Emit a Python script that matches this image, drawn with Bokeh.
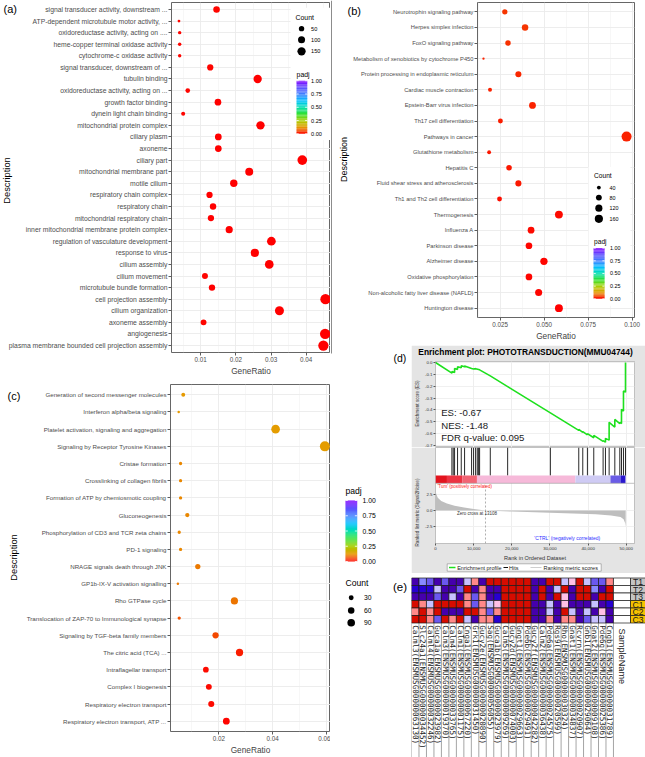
import math
from bokeh.plotting import figure
from bokeh.models import (Range1d, FixedTicker, NumeralTickFormatter, GridBox, Grid,
                          LinearColorMapper, ColumnDataSource, Span)
from bokeh.layouts import column
from bokeh.core.properties import value
from bokeh.embed import file_html
from bokeh.resources import INLINE

# ============================ DATA ============================
# (a) GO enrichment
a_terms = [
    "signal transducer activity, downstream ...",
    "ATP-dependent microtubule motor activity, ...",
    "oxidoreductase activity, acting on ....",
    "heme-copper terminal oxidase activity",
    "cytochrome-c oxidase activity",
    "signal transducer, downstream of ...",
    "tubulin binding",
    "oxidoreductase activity, acting on ...",
    "growth factor binding",
    "dynein light chain binding",
    "mitochondrial protein complex",
    "ciliary plasm",
    "axoneme",
    "ciliary part",
    "mitochondrial membrane part",
    "motile cilium",
    "respiratory chain complex",
    "respiratory chain",
    "mitochondrial respiratory chain",
    "inner mitochondrial membrane protein complex",
    "regulation of vasculature development",
    "response to virus",
    "cilium assembly",
    "cilium movement",
    "microtubule bundle formation",
    "cell projection assembly",
    "cilium organization",
    "axoneme assembly",
    "angiogenesis",
    "plasma membrane bounded cell projection assembly",
]
a_ratio = [0.0145, 0.0038, 0.0040, 0.0040, 0.0040, 0.0127, 0.0262, 0.0063, 0.0149, 0.0050,
           0.0270, 0.0150, 0.0150, 0.0389, 0.0238, 0.0194, 0.0125, 0.0135, 0.0129, 0.0181,
           0.0301, 0.0254, 0.0295, 0.0112, 0.0132, 0.0455, 0.0324, 0.0108, 0.0454, 0.0449]
a_count = [51, 13, 14, 14, 14, 44, 92, 22, 52, 17, 94, 53, 53, 136, 83, 68, 44, 47, 45, 63,
           105, 89, 103, 39, 46, 159, 113, 38, 159, 157]
a_padj = [0.004, 0.006, 0.005, 0.005, 0.005, 0.004, 0.002, 0.005, 0.003, 0.006, 0.002, 0.003,
          0.003, 0.001, 0.002, 0.002, 0.003, 0.003, 0.003, 0.002, 0.001, 0.002, 0.001, 0.004,
          0.003, 0.001, 0.001, 0.004, 0.001, 0.001]
a_ratio_ticks = [0.01, 0.02, 0.03, 0.04]
a_ratio_minor = [0.005, 0.015, 0.025, 0.035, 0.045]
a_count_breaks = [50, 100, 150]

# (b) KEGG enrichment
b_terms = [
    "Neurotrophin signaling pathway",
    "Herpes simplex infection",
    "FoxO signaling pathway",
    "Metabolism of xenobiotics by cytochrome P450",
    "Protein processing in endoplasmic reticulum",
    "Cardiac muscle contraction",
    "Epstein-Barr virus infection",
    "Th17 cell differentiation",
    "Pathways in cancer",
    "Glutathione metabolism",
    "Hepatitis C",
    "Fluid shear stress and atherosclerosis",
    "Th1 and Th2 cell differentiation",
    "Thermogenesis",
    "Influenza A",
    "Parkinson disease",
    "Alzheimer disease",
    "Oxidative phosphorylation",
    "Non-alcoholic fatty liver disease (NAFLD)",
    "Huntington disease",
]
b_ratio = [0.0277, 0.0392, 0.0295, 0.0156, 0.0354, 0.0193, 0.0434, 0.0252, 0.0968, 0.0188,
           0.0301, 0.0354, 0.0247, 0.0584, 0.0426, 0.0414, 0.0499, 0.0414, 0.0469, 0.0584]
b_count = [50, 71, 53, 28, 64, 35, 78, 45, 174, 34, 54, 64, 44, 105, 77, 75, 90, 75, 84, 105]
b_padj = [0.045, 0.045, 0.040, 0.030, 0.035, 0.030, 0.030, 0.025, 0.030, 0.020,
          0.020, 0.020, 0.015, 0.010, 0.010, 0.006, 0.006, 0.004, 0.004, 0.003]
b_ratio_ticks = [0.025, 0.050, 0.075, 0.100]
b_ratio_minor = [0.0125, 0.0375, 0.0625, 0.0875]
b_count_breaks = [40, 80, 120, 160]

# (c) Reactome enrichment
c_terms = [
    "Generation of second messenger molecules",
    "Interferon alpha/beta signaling",
    "Platelet activation, signaling and aggregation",
    "Signaling by Receptor Tyrosine Kinases",
    "Cristae formation",
    "Crosslinking of collagen fibrils",
    "Formation of ATP by chemiosmotic coupling",
    "Gluconeogenesis",
    "Phosphorylation of CD3 and TCR zeta chains",
    "PD-1 signaling",
    "NRAGE signals death through JNK",
    "GP1b-IX-V activation signalling",
    "Rho GTPase cycle",
    "Translocation of ZAP-70 to Immunological synapse",
    "Signaling by TGF-beta family members",
    "The citric acid (TCA) ...",
    "Intraflagellar transport",
    "Complex I biogenesis",
    "Respiratory electron transport",
    "Respiratory electron transport, ATP ...",
]
c_ratio = [0.0068, 0.0051, 0.0411, 0.0594, 0.0058, 0.0058, 0.0058, 0.0083, 0.0053, 0.0058,
           0.0122, 0.0048, 0.0258, 0.0053, 0.0188, 0.0277, 0.0152, 0.0163, 0.0172, 0.0228]
c_count = [11, 8, 66, 95, 9, 9, 9, 13, 9, 9, 20, 8, 42, 9, 30, 44, 24, 26, 28, 37]
c_padj = [0.125, 0.125, 0.130, 0.130, 0.110, 0.110, 0.110, 0.110, 0.110, 0.110,
          0.100, 0.100, 0.095, 0.070, 0.060, 0.025, 0.010, 0.010, 0.010, 0.005]
c_ratio_ticks = [0.02, 0.04, 0.06]
c_ratio_minor = [0.01, 0.03, 0.05]
c_count_breaks = [30, 60, 90]

padj_breaks = [0.00, 0.25, 0.50, 0.75, 1.00]

# (d) GSEA enrichment plot
gsea_title = "Enrichment plot: PHOTOTRANSDUCTION(MMU04744)"
es_rank = [0, 4300, 4300, 5000, 5000, 5780, 5780, 6750, 6750, 7620, 7620, 9460, 9980, 10510,
           11560, 14360, 18910, 30110, 37550, 37550, 38600, 38600, 39820, 39820, 41480, 41480,
           43930, 43930, 44550, 44550, 45510, 45510, 47000, 47000, 48310, 48310, 48750, 48750,
           49270, 49270, 49800, 49800]
es_val = [0.0, -0.090, -0.075, -0.085, -0.050, -0.058, -0.035, -0.045, -0.028, -0.036, -0.030,
          -0.050, -0.055, -0.052, -0.062, -0.113, -0.203, -0.425, -0.572, -0.565, -0.590, -0.583,
          -0.610, -0.600, -0.635, -0.615, -0.665, -0.660, -0.672, -0.640, -0.655, -0.505, -0.545,
          -0.480, -0.515, -0.505, -0.515, -0.395, -0.410, -0.240, -0.250, 0.0]
es_ticks = [0.0, -0.1, -0.2, -0.3, -0.4, -0.5, -0.6, -0.7]
es_stats = ["ES: -0.67", "NES: -1.48", "FDR q-value: 0.095"]
hits_rank = [4300, 4650, 5000, 5780, 6750, 7620, 9460, 9980, 10510, 10950, 11300, 11560, 14360,
             18910, 30110, 37550, 38600, 39820, 41480, 43930, 44550, 45510, 47000, 48310, 48750,
             49270, 49800]
cbar_start = [0, 3000, 7000, 10860, 36670, 45860, 48480]
cbar_end = [3000, 7000, 10860, 36670, 45860, 48480, 49800]
cbar_color = ["#E3141E", "#EC3343", "#F26474", "#F6B9D9", "#CFCBF4", "#6A5CE6", "#2A18CF"]
metric_rank = [0, 200, 600, 1500, 3000, 5000, 7500, 10000, 13108, 20000, 28000, 36000, 42000,
               46000, 48500, 49300, 49700, 49850]
metric_val = [3.3, 2.6, 2.0, 1.5, 1.1, 0.75, 0.45, 0.22, 0.0, -0.18, -0.33, -0.48, -0.62,
              -0.80, -1.05, -1.40, -2.00, -2.60]
metric_ticks = [-2.5, 0.0, 2.5]
rank_ticks = [0, 10000, 20000, 30000, 40000, 50000]
zero_cross = 13108
d_legend_labels = ["Enrichment profile", "Hits", "Ranking metric scores"]

# (e) heat map of the leading genes
genes = [
    "Calml3(ENSMUSG00000063130)", "Slc24a1(ENSMUSG00000034452)", "Calml4(ENSMUSG00000032246)",
    "Guca1a(ENSMUSG00000023982)", "Calm3(ENSMUSG00000019370)", "Calm4(ENSMUSG00000033765)",
    "Calm1(ENSMUSG00000001175)", "Cnga1(ENSMUSG00000067220)", "Grk1(ENSMUSG00000031450)",
    "Gucy2e(ENSMUSG00000020890)", "Sag(ENSMUSG00000056055)", "Guca1b(ENSMUSG00000023979)",
    "Calm5(ENSMUSG00000009269)", "Gucy2d(ENSMUSG00000074003)", "Gngt1(ENSMUSG00000029663)",
    "Pde6b(ENSMUSG00000029491)", "Gucy2f(ENSMUSG00000042282)", "Calm2(ENSMUSG00000036438)",
    "Pde6a(ENSMUSG00000024575)", "Rgs9(ENSMUSG00000020599)", "Rho(ENSMUSG00000030324)",
    "Gnat1(ENSMUSG00000034837)", "Rcvrn(ENSMUSG00000020907)", "Gnb1(ENSMUSG00000029064)",
    "Gnat2(ENSMUSG00000009108)", "Pde6g(ENSMUSG00000025386)", "Cngb1(ENSMUSG00000031789)",
]
samples = ["T1", "T2", "T3", "C1", "C2", "C3"]
heat_T1 = [-1.8, -0.8, -1.1, -1.8, -1.1, -1.8, -1.8, -0.5, 0.6, -1.8, 1.9, 1.9, 1.9, 1.9,
           1.9, 1.9, -1.8, -1.8, 1.9, 1.9, -0.5, 0.2, 1.9, -0.5, -1.1, -1.1, 0.6]
heat_T2 = [-1.5, -1.5, -1.5, -0.5, -1.8, -1.8, -1.1, 1.9, -1.8, 0.6, -1.8, -1.8, 1.9, 1.9,
           1.9, 1.9, -1.8, 1.9, -1.8, -0.5, 1.9, -1.8, 1.9, 1.9, -0.8, -1.8, 1.9]
heat_T3 = [-1.8, -1.8, -1.8, -1.1, -1.8, -0.5, -1.8, 0.6, -1.1, 0.6, -1.8, -1.5, 1.9, 1.9,
           1.9, 1.9, -1.8, 1.9, -1.8, 1.9, 0.2, -1.8, 1.9, 1.9, -1.8, 1.9, 1.9]
heat_C1 = [1.9, 0.6, -0.5, 1.9, 1.9, 1.9, 1.9, 0.6, -1.1, 0.6, -0.5, 0.2, 1.9, 1.9,
           1.9, 1.9, -1.8, -1.8, -0.5, -1.8, 0.2, -1.8, -1.8, -1.8, -0.5, -1.8, -1.5]
heat_C2 = [0.6, 1.9, 0.6, 1.9, -1.8, -1.8, -1.8, 1.9, 1.9, 0.6, -1.1, 0.6, 1.9, 1.9,
           1.9, 1.9, -1.8, -1.8, -0.5, -1.8, 1.9, -0.5, -1.8, -0.5, -1.8, 0.2, -1.8]
heat_C3 = [1.9, 1.9, 0.6, -1.1, 1.9, 0.6, 1.9, -0.5, -1.8, 0.6, 0.6, -1.5, 1.9, 1.9,
           1.9, 1.9, -1.8, -1.8, 0.6, -1.8, 0.6, 0.6, -1.8, -1.1, -0.5, -0.5, -1.8]
heat_rows = [heat_T1, heat_T2, heat_T3, heat_C1, heat_C2, heat_C3]

# ============================ STYLE ============================
S = 1.0
FONT = "Liberation Sans"
MONO = "DejaVu Sans Mono"
GSEA_BG = "#E4E4E4"
GREEN = "#1EE01E"
HEAT_PALETTE = ["#4500AD", "#2700D1", "#6B58EF", "#8888FF", "#C7C1FF", "#D5D5FF",
                "#FFC0E5", "#FF8989", "#FF7080", "#FF5A5A", "#EF4040", "#D60C00"]
PADJ_STOPS = [(0.0, "#FF0000"), (0.125, "#E69A00"), (0.25, "#A8D000"), (0.375, "#30E030"),
              (0.5, "#00E0B0"), (0.625, "#00C0FF"), (0.75, "#4080FF"), (0.875, "#6050FF"),
              (1.0, "#8000FF")]


def sc(v):
    return int(round(v * S))


def fs(v):
    return f"{v * S:.2f}px"


def _rgb(c):
    return tuple(int(c[i:i + 2], 16) for i in (1, 3, 5))


def cmap(t):
    for (t0, c0), (t1, c1) in zip(PADJ_STOPS[:-1], PADJ_STOPS[1:]):
        if t <= t1:
            f = (t - t0) / (t1 - t0)
            a, b = _rgb(c0), _rgb(c1)
            return "#%02x%02x%02x" % tuple(int(round(a[k] + (b[k] - a[k]) * f)) for k in range(3))
    return PADJ_STOPS[-1][1]


PADJ_MAPPER = LinearColorMapper(palette=[cmap(i / 255) for i in range(256)], low=0, high=1)
HEAT_MAPPER = LinearColorMapper(palette=HEAT_PALETTE, low=-2, high=2)


def dsize(c, cmin, cmax, dmin, dmax):
    return (dmin + (dmax - dmin) * math.sqrt(max(0.0, c - cmin) / (cmax - cmin))) * S


def make_fig(box, frame=None, xr=(0, 1), yr=(0, 1), xloc=None, yloc=None):
    sx0, sy0, sx1, sy1 = [sc(v) for v in box]
    fx0, fy0, fx1, fy1 = [sc(v) for v in (frame or box)]
    p = figure(width=sx1 - sx0, height=sy1 - sy0, output_backend="svg", toolbar_location=None,
               title=None, x_range=Range1d(*xr), y_range=Range1d(*yr),
               x_axis_location=xloc, y_axis_location=yloc, min_border=0,
               min_border_left=max(0, fx0 - sx0), min_border_right=max(0, sx1 - fx1),
               min_border_top=max(0, fy0 - sy0), min_border_bottom=max(0, sy1 - fy1))
    p.frame_align = False
    p.border_fill_color = "white"
    p.background_fill_color = "white"
    p.outline_line_color = None
    if xloc is None:
        p.xgrid.visible = False
    if yloc is None:
        p.ygrid.visible = False
    return p


def txt(p, xs, ys, texts, size, color="#000000", align="left", baseline="middle",
        font=FONT, angle=0.0, style="normal"):
    p.text(x=xs, y=ys, text=texts, text_font=value(font), text_font_size=value(fs(size)),
           text_color=color, text_align=align, text_baseline=baseline, angle=angle,
           text_font_style=style)


def style_axis(ax, lsize, color="#4D4D4D", tick=3, standoff=1):
    ax.axis_line_color = None
    ax.major_tick_line_color = "#333333"
    ax.major_tick_line_width = 0.8
    ax.major_tick_out = tick
    ax.major_tick_in = 0
    ax.minor_tick_out = 0
    ax.minor_tick_in = 0
    ax.major_label_text_font = FONT
    ax.major_label_text_font_size = fs(lsize)
    ax.major_label_text_color = color
    ax.major_label_standoff = standoff


def dotplot(box, frame, xr, terms, ratio, count, padj, ticks, minor, fmt, ylab_size, dmin, dmax):
    n = len(terms)
    p = make_fig(box, frame, xr, (n + 0.6, 0.4), xloc="below", yloc="left")
    p.outline_line_color = "#555555"
    p.outline_line_width = 0.9
    xa, ya = p.xaxis[0], p.yaxis[0]
    xa.ticker = FixedTicker(ticks=ticks, minor_ticks=minor)
    xa.formatter = NumeralTickFormatter(format=fmt)
    ya.ticker = FixedTicker(ticks=list(range(1, n + 1)))
    ya.major_label_overrides = {i + 1: t for i, t in enumerate(terms)}
    style_axis(xa, 6.3)
    style_axis(ya, ylab_size)
    xa.axis_label = "GeneRatio"
    xa.axis_label_text_font = FONT
    xa.axis_label_text_font_size = fs(8.3)
    xa.axis_label_text_font_style = "normal"
    xa.axis_label_standoff = 1
    p.xgrid.grid_line_color = "#EBEBEB"
    p.xgrid.grid_line_width = 0.9
    p.xgrid.minor_grid_line_color = "#F2F2F2"
    p.xgrid.minor_grid_line_width = 0.6
    p.ygrid.grid_line_color = "#EBEBEB"
    p.ygrid.grid_line_width = 0.9
    cmin, cmax = min(count), max(count)
    src = ColumnDataSource(dict(x=ratio, y=list(range(1, n + 1)),
                                s=[dsize(c, cmin, cmax, dmin, dmax) for c in count], padj=padj))
    p.scatter("x", "y", size="s", source=src,
              fill_color={"field": "padj", "transform": PADJ_MAPPER}, line_color=None)
    return p


def legend_block(p, cx, cy, count, breaks, dmin, dmax, lay, title_fs, lab_fs, shrink):
    if lay.get("bg"):
        x0, y0, x1, y1 = lay["bg"]
        p.quad(left=[cx(x0)], right=[cx(x1)], top=[cy(y0)], bottom=[cy(y1)],
               fill_color="white", line_color=None)
    tx, ty = lay["count_title"]
    txt(p, [cx(tx)], [cy(ty)], ["Count"], title_fs)
    cmin, cmax = min(count), max(count)
    p.scatter(x=[cx(lay["dot_x"])] * len(breaks), y=[cy(v) for v in lay["dot_y"]],
              size=[dsize(b, cmin, cmax, dmin, dmax) * shrink for b in breaks],
              fill_color="black", line_color=None)
    txt(p, [cx(lay["lab_x"])] * len(breaks), [cy(v) for v in lay["dot_y"]],
        [str(b) for b in breaks], lab_fs)
    tx, ty = lay["padj_title"]
    txt(p, [cx(tx)], [cy(ty)], ["padj"], title_fs)
    bx0, bx1, by0, by1 = lay["bar"]
    nseg = 64
    lefts, rights, tops, bottoms, cols = [], [], [], [], []
    for i in range(nseg):
        lefts.append(cx(bx0))
        rights.append(cx(bx1))
        bottoms.append(cy(by1 - (by1 - by0) * i / nseg))
        tops.append(cy(by1 - (by1 - by0) * min(nseg, i + 1.15) / nseg))
        cols.append(cmap((i + 0.5) / nseg))
    p.quad(left=lefts, right=rights, top=tops, bottom=bottoms, fill_color=cols, line_color=None)
    ty = [by1 - (by1 - by0) * b for b in padj_breaks]
    w = (bx1 - bx0) / 5
    p.segment(x0=[cx(bx0)] * 5 + [cx(bx1 - w)] * 5, x1=[cx(bx0 + w)] * 5 + [cx(bx1)] * 5,
              y0=[cy(v) for v in ty] * 2, y1=[cy(v) for v in ty] * 2,
              line_color="white", line_width=0.8)
    txt(p, [cx(lay["bar_lab_x"])] * 5, [cy(v) for v in ty],
        ["%.2f" % b for b in padj_breaks], lab_fs)


def converter(frame, xr, yr_top, yr_bot):
    fx0, fy0, fx1, fy1 = frame

    def cx(px):
        return xr[0] + (px - fx0) / (fx1 - fx0) * (xr[1] - xr[0])

    def cy(py):
        return yr_top + (py - fy0) / (fy1 - fy0) * (yr_bot - yr_top)
    return cx, cy


def ident(v):
    return v


# ============================ PANEL (a) ============================
a_box = (0, 0, 330, 378)
a_frame = (170.7, 1.6, 330, 359.1)
a_xr = (0.001676, 0.04693)
fa = dotplot(a_box, a_frame, a_xr, a_terms, a_ratio, a_count, a_padj, a_ratio_ticks,
             a_ratio_minor, "0.00", 6.8, 2.8, 10.3)
cxa, cya = converter(a_frame, a_xr, 0.4, len(a_terms) + 0.6)
legend_block(fa, cxa, cya, a_count, a_count_breaks, 2.8, 10.3,
             dict(bg=(290, 7, 330, 142), count_title=(295, 16.5), dot_x=301,
                  dot_y=[28.3, 39.7, 51.5], lab_x=310.5, padj_title=(296, 75.5),
                  bar=(296, 306.7, 81.5, 135.7), bar_lab_x=310.5), 6.9, 5.6, 0.82)

# ============================ PANEL (b) ============================
b_box = (330, 0, 645, 345)
b_frame = (476.7, 1.5, 634, 316.7)
b_xr = (0.0122, 0.1013)
fb = dotplot(b_box, b_frame, b_xr, b_terms, b_ratio, b_count, b_padj, b_ratio_ticks,
             b_ratio_minor, "0.000", 5.75, 2.3, 10.0)
cxb, cyb = converter(b_frame, b_xr, 0.4, len(b_terms) + 0.6)
legend_block(fb, cxb, cyb, b_count, b_count_breaks, 2.3, 10.0,
             dict(bg=(588, 166, 630, 305), count_title=(593.5, 174.5), dot_x=598.3,
                  dot_y=[186.7, 196.7, 207.3, 218.0], lab_x=609, padj_title=(593.5, 240.7),
                  bar=(593, 604, 247.3, 298), bar_lab_x=609.5), 6.6, 5.4, 0.85)

# ============================ PANEL (c) ============================
c_box = (0, 378, 330, 757)
c_frame = (170, 384, 330, 730.6)
c_xr = (0.00206, 0.06149)
fc = dotplot(c_box, c_frame, c_xr, c_terms, c_ratio, c_count, c_padj, c_ratio_ticks,
             c_ratio_minor, "0.00", 6.2, 2.5, 10.0)

# ============================ PANEL (d) ============================
RANK_END = 52160
rank_range = Range1d(0, RANK_END)
d1_box = (411, 345, 645, 447)
d1_frame = (435.3, 360.7, 634, 447)
d1 = make_fig(d1_box, d1_frame, (0, RANK_END), (-0.717, 0.0084), xloc=None, yloc="left")
d1.x_range = rank_range
d1.border_fill_color = GSEA_BG
d1.outline_line_color = "#A8A8A8"
d1.outline_line_width = 0.7
ya = d1.yaxis[0]
ya.ticker = FixedTicker(ticks=es_ticks)
ya.formatter = NumeralTickFormatter(format="0.0")
style_axis(ya, 4.4, color="#333333", tick=2, standoff=1)
d1.ygrid.grid_line_color = "#F0F0F0"
d1.add_layout(Grid(dimension=0, ticker=FixedTicker(ticks=rank_ticks), grid_line_color="#EEEEEE"))
d1.line(es_rank, es_val, line_color=GREEN, line_width=1.6)
txt(d1, [1500] * 3, [-0.42, -0.529, -0.63], es_stats, 9.6, color="#1A1A1A")

d2_box = (411, 447, 645, 573)
d2_frame = (435.3, 447, 634, 542.7)
d2 = make_fig(d2_box, d2_frame, (0, RANK_END), (-5.25, 9.98), xloc="below", yloc="left")
d2.x_range = rank_range
d2.border_fill_color = GSEA_BG
d2.outline_line_color = "#A8A8A8"
d2.outline_line_width = 0.7
xa = d2.xaxis[0]
xa.ticker = FixedTicker(ticks=rank_ticks)
xa.formatter = NumeralTickFormatter(format="0,0")
style_axis(xa, 4.4, color="#333333", tick=2, standoff=1)
xa.axis_label = "Rank in Ordered Dataset"
xa.axis_label_text_font = FONT
xa.axis_label_text_font_size = fs(5.6)
xa.axis_label_text_font_style = "normal"
xa.axis_label_text_color = "#333333"
xa.axis_label_standoff = 2
ya = d2.yaxis[0]
ya.ticker = FixedTicker(ticks=metric_ticks)
ya.formatter = NumeralTickFormatter(format="0.0")
style_axis(ya, 4.4, color="#333333", tick=2, standoff=1)
d2.xgrid.grid_line_color = "#EEEEEE"
d2.ygrid.grid_line_color = "#F0F0F0"
d2.varea(x=metric_rank, y1=[0] * len(metric_rank), y2=metric_val, fill_color="#BEBEBE")
d2.segment(x0=hits_rank, y0=[5.53] * len(hits_rank), x1=hits_rank, y1=[9.98] * len(hits_rank),
           line_color="#111111", line_width=0.9)
d2.quad(left=cbar_start, right=cbar_end, bottom=[4.3] * len(cbar_start),
        top=[5.53] * len(cbar_start), fill_color=cbar_color, line_color=None)
d2.add_layout(Span(location=4.3, dimension="width", line_color="#A8A8A8", line_width=0.7))
d2.segment(x0=[zero_cross], y0=[-5.25], x1=[zero_cross], y1=[4.3], line_color="#9A9A9A",
           line_width=0.8, line_dash="2 2")
txt(d2, [525], [3.8], ["'Tum' (positively correlated)"], 4.5, color="#FF2020")
txt(d2, [10860], [-0.5], ["Zero cross at %d" % zero_cross], 4.5, color="#333333", align="center")
txt(d2, [25900], [-4.35], ["'CTRL' (negatively correlated)"], 5.0, color="#3030FF")
dcol = column(d1, d2, spacing=0)

# ============================ PANEL (e) ============================
e_box = (411, 573, 645, 757)
CELL_W, CELL_H = 7.48, 7.5
e_x1 = (645 - 411) / CELL_W
e_y0 = -(577.5 - 573) / CELL_H
e_y1 = (757 - 577.5) / CELL_H
fe = make_fig(e_box, None, (0, e_x1), (e_y1, e_y0))
ng, ns = len(genes), len(samples)
fe.segment(x0=list(range(ng + 1)), y0=[ns] * (ng + 1), x1=list(range(ng + 1)),
           y1=[e_y1] * (ng + 1), line_color="#8E8E8E", line_width=0.8)
txt(fe, [i + 0.5 for i in range(ng)], [ns + 0.3] * ng, genes, 7.6, color="#222222",
    font=MONO, angle=-math.pi / 2)
hx, hy, hv = [], [], []
for r, row in enumerate(heat_rows):
    for c, v in enumerate(row):
        hx.append(c + 0.5)
        hy.append(r + 0.5)
        hv.append(v)
fe.rect(x="x", y="y", width=1, height=1, source=ColumnDataSource(dict(x=hx, y=hy, v=hv)),
        fill_color={"field": "v", "transform": HEAT_MAPPER}, line_color="#1A1A1A",
        line_width=0.7)
split = (630 - 411) / CELL_W
fe.quad(left=[ng] * ns, right=[split] * ns, top=list(range(ns)),
        bottom=[r + 1 for r in range(ns)], fill_color="white", line_color="#1A1A1A",
        line_width=0.7)
fe.quad(left=[split] * ns, right=[e_x1] * ns, top=list(range(ns)),
        bottom=[r + 1 for r in range(ns)],
        fill_color=["#C4C4C4" if s.startswith("T") else "#F5C200" for s in samples],
        line_color="#1A1A1A", line_width=0.7)
txt(fe, [(split + e_x1) / 2] * ns, [r + 0.55 for r in range(ns)], samples, 8.6,
    color="#1A1A1A", align="center")
txt(fe, [(621.5 - 411) / CELL_W], [(628 - 577.5) / CELL_H], ["SampleName"], 9.2,
    color="#222222", angle=-math.pi / 2)

# ============ transparent overlay: letters, axis titles, outside legends ============
ov = make_fig((0, 0, 645, 757), None, (0, 645), (757, 0))
ov.border_fill_color = None
ov.background_fill_color = None
txt(ov, [3, 347, 7], [8, 10, 395], ["(a)", "(b)", "(c)"], 11)
txt(ov, [393], [357], ["(d)"], 10.5)
txt(ov, [392.5], [586.5], ["(e)"], 11.5)
txt(ov, [6, 13], [180, 557], ["Description", "Description"], 9.3, angle=math.pi / 2,
    align="center")
txt(ov, [343], [159], ["Description"], 9.0, angle=math.pi / 2, align="center")
ov.segment(x0=[331], y0=[0], x1=[331], y1=[353], line_color="#8C8C8C", line_width=1)
legend_block(ov, ident, ident, c_count, c_count_breaks, 2.5, 10.0,
             dict(bg=None, count_title=(345, 582.5), dot_x=350.7, dot_y=[597.3, 610.0, 622.3],
                  lab_x=363.5, padj_title=(345, 490), bar=(345, 356.7, 500, 561),
                  bar_lab_x=362), 8.6, 6.8, 0.78)
txt(ov, [525], [351.5], [gsea_title], 8.4, align="center", style="bold")
txt(ov, [417], [403], ["Enrichment score (ES)"], 4.6, color="#333333", angle=math.pi / 2,
    align="center")
txt(ov, [417], [512], ["Ranked list metric (Signal2Noise)"], 4.6, color="#333333",
    angle=math.pi / 2, align="center")
ov.quad(left=[446.7], right=[600.7], top=[563.3], bottom=[570.7], fill_color="white",
        line_color="#8A8A8A", line_width=0.6)
ov.segment(x0=[448.5, 503, 530], x1=[455, 507.5, 541], y0=[567] * 3, y1=[567] * 3,
           line_color=[GREEN, "#111111", "#CFCFCF"], line_width=[1.5, 1.0, 1.0])
txt(ov, [456.7, 508.5, 543], [567] * 3, d_legend_labels, 5.5, color="#222222")

# ============================ LAYOUT ============================
XB = [sc(v) for v in (0, 330, 411, 645)]
YB = [sc(v) for v in (0, 345, 378, 573, 757)]
grid = GridBox(children=[(fa, 0, 0, 2, 1), (fb, 0, 1, 1, 2), (dcol, 1, 2, 2, 1),
                         (fc, 2, 0, 2, 1), (fe, 3, 2, 1, 1), (ov, 0, 0, 4, 3)],
               rows=["%dpx" % (YB[i + 1] - YB[i]) for i in range(4)],
               cols=["%dpx" % (XB[i + 1] - XB[i]) for i in range(3)], spacing=0)

open("out.html", "w").write(file_html(grid, INLINE))
